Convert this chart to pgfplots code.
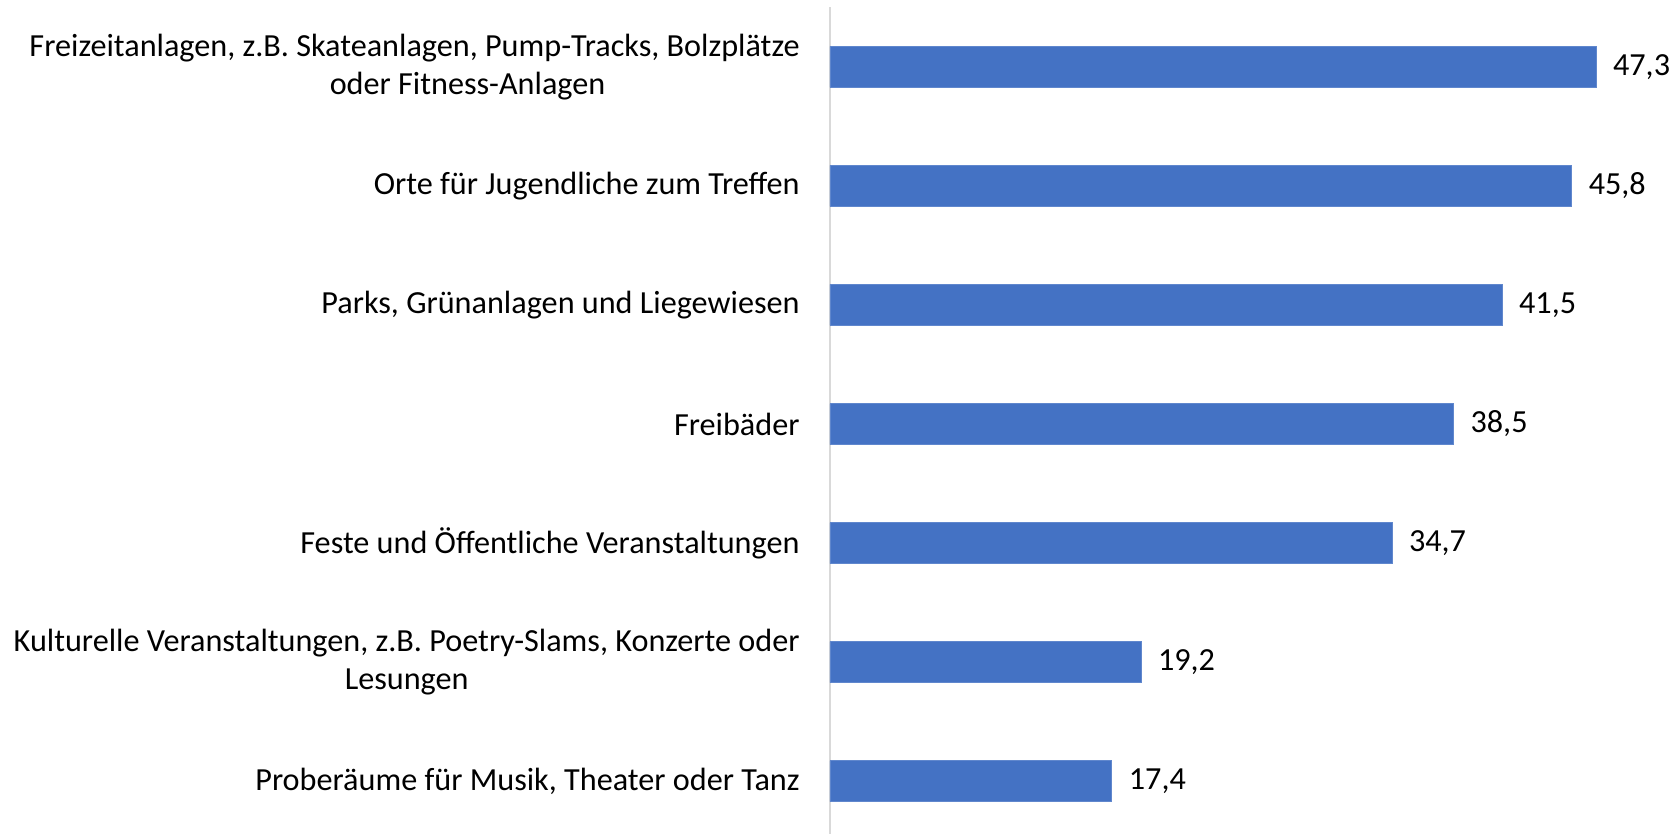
\documentclass[border=0pt]{standalone}
\usepackage{fontspec}
\setmainfont{Carlito}
\usepackage{pgfplots}
\pgfplotsset{compat=1.18}
\definecolor{barblue}{HTML}{4472C4}
\definecolor{axgray}{HTML}{D9D9D9}
\begin{document}
\begin{tikzpicture}
\begin{axis}[
  at={(0pt,0pt)}, anchor=south west,
  scale only axis, width=423.5pt, height=413.5pt,
  xbar, xmin=0, xmax=52.3, ymin=-0.445, ymax=6.504,
  bar width=20.5pt,
  hide x axis,
  axis y line*=left,
  y axis line style={axgray, line width=1pt},
  ytick={0,...,6},
  major tick length=0pt,
  /pgf/number format/assume math mode=true,
  yticklabels={
    {Proberäume für Musik, Theater oder Tanz},
    {Kulturelle Veranstaltungen, z.B. Poetry-Slams, Konzerte oder\\Lesungen},
    {Feste und Öffentliche Veranstaltungen},
    {Freibäder},
    {Parks, Grünanlagen und Liegewiesen},
    {Orte für Jugendliche zum Treffen},
    {Freizeitanlagen, z.B. Skateanlagen, Pump-Tracks, Bolzplätze\\oder Fitness-Anlagen\hspace*{-53pt}}
  },
  yticklabel style={font=\fontsize{16.1}{19}\selectfont, align=center, text=black, inner sep=0pt, xshift=-15pt},
  nodes near coords={\pgfmathprintnumber[fixed,precision=1,fixed zerofill,use comma,assume math mode=true]{\pgfplotspointmeta}},
  nodes near coords style={font=\fontsize{16.1}{19}\selectfont, text=black, anchor=west, xshift=5pt},
  clip=false,
]
\addplot[fill=barblue, draw=barblue!85!white] coordinates {
  (17.4,0) (19.2,1) (34.7,2) (38.5,3) (41.5,4) (45.8,5) (47.3,6)
};
\end{axis}
\pgfresetboundingbox
\path (-415pt,0pt) rectangle (423.5pt,417pt);
\end{tikzpicture}
\end{document}
